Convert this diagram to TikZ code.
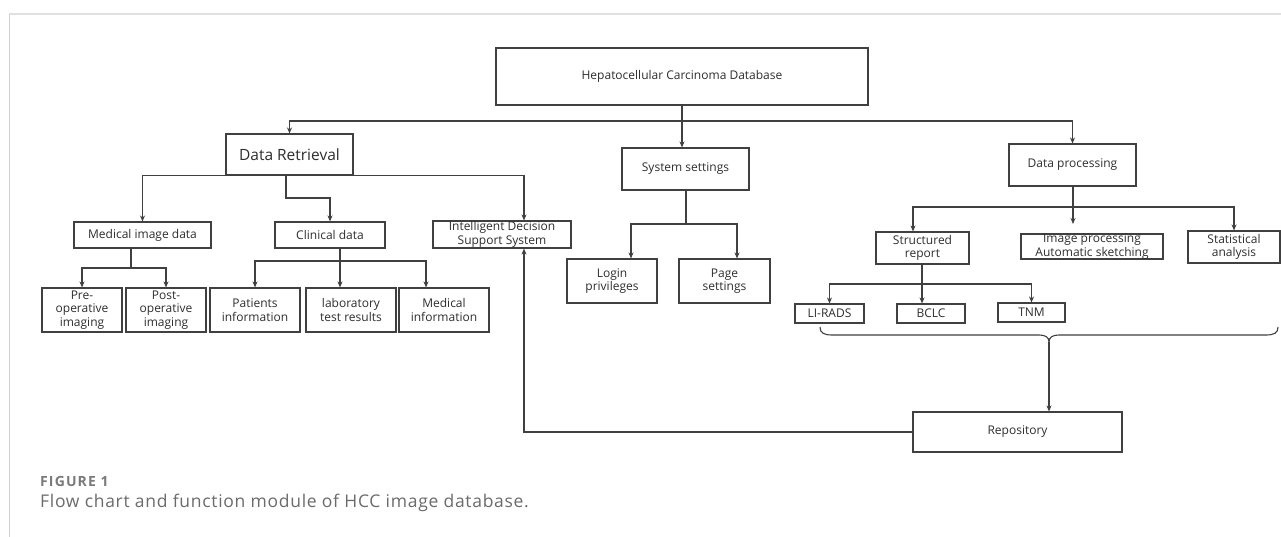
\documentclass[tikz,border=0pt]{standalone}
\usepackage{fontspec}
\setmainfont{Open Sans}
\newfontfamily\capfont[LetterSpace=4]{Open Sans}
\newfontfamily\figfont[LetterSpace=8]{Open Sans}
\usetikzlibrary{arrows.meta}
\begin{document}
\begin{tikzpicture}[x=1pt,y=-1pt,
  bx/.style={draw=black!75, line width=1.1pt, inner sep=0pt, fill=white},
  txt/.style={font=\fontsize{12}{13.5}\selectfont, text=black!82, align=center, inner sep=0pt},
  ln/.style={draw=black!75, line width=1.1pt},
  arr/.style={ln, -{Stealth[length=6pt,width=5pt]}}
]
\useasboundingbox (0,0) rectangle (1281,537);
\fill[white] (0,0) rectangle (1281,537);
% frame
\draw[black!12, line width=1.6pt] (9,14) -- (1281,14);
\draw[black!18, line width=0.8pt] (9,14) -- (9,537);

% boxes
\node[bx, minimum width=372, minimum height=57] (hcc) at (682,76.5) {};
\node[txt] (hcct) at (hcc) {Hepatocellular Carcinoma Database};
\node[bx, minimum width=127, minimum height=41] (dr) at (289.5,154.5) {};
\node[txt, font=\fontsize{15.5}{17}\selectfont] (drt) at (dr) {Data Retrieval};
\node[bx, minimum width=127, minimum height=42] (ss) at (685.5,169) {};
\node[txt] (sst) at (ss) {System settings};
\node[bx, minimum width=127, minimum height=42] (dp) at (1072.5,165) {};
\node[txt] (dpt) at (dp) {Data processing};

\node[bx, minimum width=137, minimum height=26] (mid) at (142.5,235) {};
\node[txt] (midt) at (mid) {Medical image data};
\node[bx, minimum width=110, minimum height=26] (cd) at (330,235) {};
\node[txt] (cdt) at (cd) {Clinical data};
\node[bx, minimum width=138, minimum height=27] (ids) at (502,234.5) {};
\node[txt] (idst) at (ids) {Intelligent Decision\\Support System};

\node[bx, minimum width=80, minimum height=44] (pre) at (82,310) {};
\node[txt] (pret) at (pre) {Pre-\\operative\\imaging};
\node[bx, minimum width=80, minimum height=44] (post) at (166,310) {};
\node[txt] (postt) at (post) {Post-\\operative\\imaging};
\node[bx, minimum width=90, minimum height=44] (pat) at (255,310) {};
\node[txt] (patt) at (pat) {Patients\\information};
\node[bx, minimum width=90, minimum height=44] (lab) at (351,310) {};
\node[txt] (labt) at (lab) {laboratory\\test results};
\node[bx, minimum width=90, minimum height=44] (med) at (444,310) {};
\node[txt] (medt) at (med) {Medical\\information};

\node[bx, minimum width=90, minimum height=44] (log) at (612,281) {};
\node[txt] (logt) at (log) {Login\\privileges};
\node[bx, minimum width=91, minimum height=44] (pg) at (724.5,281) {};
\node[txt] (pgt) at (pg) {Page\\settings};

\node[bx, minimum width=93, minimum height=32] (sr) at (922.5,248) {};
\node[txt] (srt) at (sr) {Structured\\report};
\node[bx, minimum width=142, minimum height=25] (ip) at (1092,246.5) {};
\node[txt] (ipt) at (ip) {Image processing\\Automatic sketching};
\node[bx, minimum width=92, minimum height=32] (sa) at (1234,247) {};
\node[txt] (sat) at (sa) {Statistical\\analysis};

\node[bx, minimum width=69, minimum height=19] (li) at (829.5,313.5) {};
\node[txt] (lit) at (li) {LI-RADS};
\node[bx, minimum width=68, minimum height=19] (bc) at (931,313.5) {};
\node[txt] (bct) at (bc) {BCLC};
\node[bx, minimum width=67, minimum height=19] (tn) at (1031.5,312.5) {};
\node[txt] (tnt) at (tn) {TNM};

\node[bx, minimum width=209, minimum height=40] (rep) at (1017.5,432) {};
\node[txt] (rept) at (rep) {Repository};

% connectors: top level
\coordinate (j1) at (682,121);
\draw[ln] (hcc.south -| j1) -- (j1);
\draw[arr] (j1) -| (dr.north);
\draw[arr] (j1) -- (j1 |- ss.north);
\draw[arr] (j1) -| (dp.north);

% data retrieval
\draw[arr] (dr.south) -| (mid.north);
\draw[arr] (dr.south) -| ([xshift=22pt]ids.north);
\coordinate (c1) at (286,198);
\draw[arr] (dr.south -| c1) -- (c1) -| (cd.north);

\coordinate (m1) at (131,268);
\draw[ln] (mid.south -| m1) -- (m1);
\draw[arr] (m1) -| (pre.north);
\draw[arr] (m1) -| (post.north);

\coordinate (c2) at (340,261);
\draw[ln] (cd.south -| c2) -- (c2);
\draw[arr] (c2) -| (pat.north);
\draw[arr] (c2) -- (c2 |- lab.north);
\draw[arr] (c2) -| ([xshift=-18pt]med.north);

% system settings
\coordinate (s1) at (686,224);
\draw[ln] (ss.south -| s1) -- (s1);
\draw[arr] (s1) -| ([xshift=19pt]log.north);
\draw[arr] (s1) -| ([xshift=12.5pt]pg.north);

% data processing
\coordinate (d1) at (1073,207);
\coordinate (d2) at (1073,224);
\draw[ln] (dp.south -| d1) -- (d1);
\draw[arr] (d1) -| ([xshift=-9.5pt]sr.north);
\draw[arr] (d1) -- (d2);
\draw[arr] (d1) -| (sa.north);

\coordinate (r1) at (922,284);
\draw[ln] (sr.south -| r1) -- (r1);
\draw[arr] (r1) -| (li.north);
\draw[arr] (r1) -- (r1 |- bc.north);
\draw[arr] (r1) -| (tn.north);

% brace
\coordinate (bt) at (1049,342);
\draw[ln] (820,327) .. controls (820,333) and (824,335) .. (832,335)
  -- (1039,335) .. controls (1045,335) and (1049,337) .. (bt)
  .. controls (1049,337) and (1053,335) .. (1059,335)
  -- (1266,335) .. controls (1274,335) and (1278,333) .. (1278,327);
\draw[arr] (bt) -- (bt |- rep.north);

% feedback
\draw[arr] (rep.west) -| ([xshift=22pt]ids.south);

% caption
\node[anchor=base west, inner sep=0pt, font=\figfont\fontsize{14}{16}\selectfont\bfseries, text=black!52] (fig) at (40,486) {FIGURE 1};
\node[anchor=base west, inner sep=0pt, font=\capfont\fontsize{17.5}{20}\selectfont, text=black!58] (cap) at (40,507) {Flow chart and function module of HCC image database.};
\end{tikzpicture}
\end{document}
